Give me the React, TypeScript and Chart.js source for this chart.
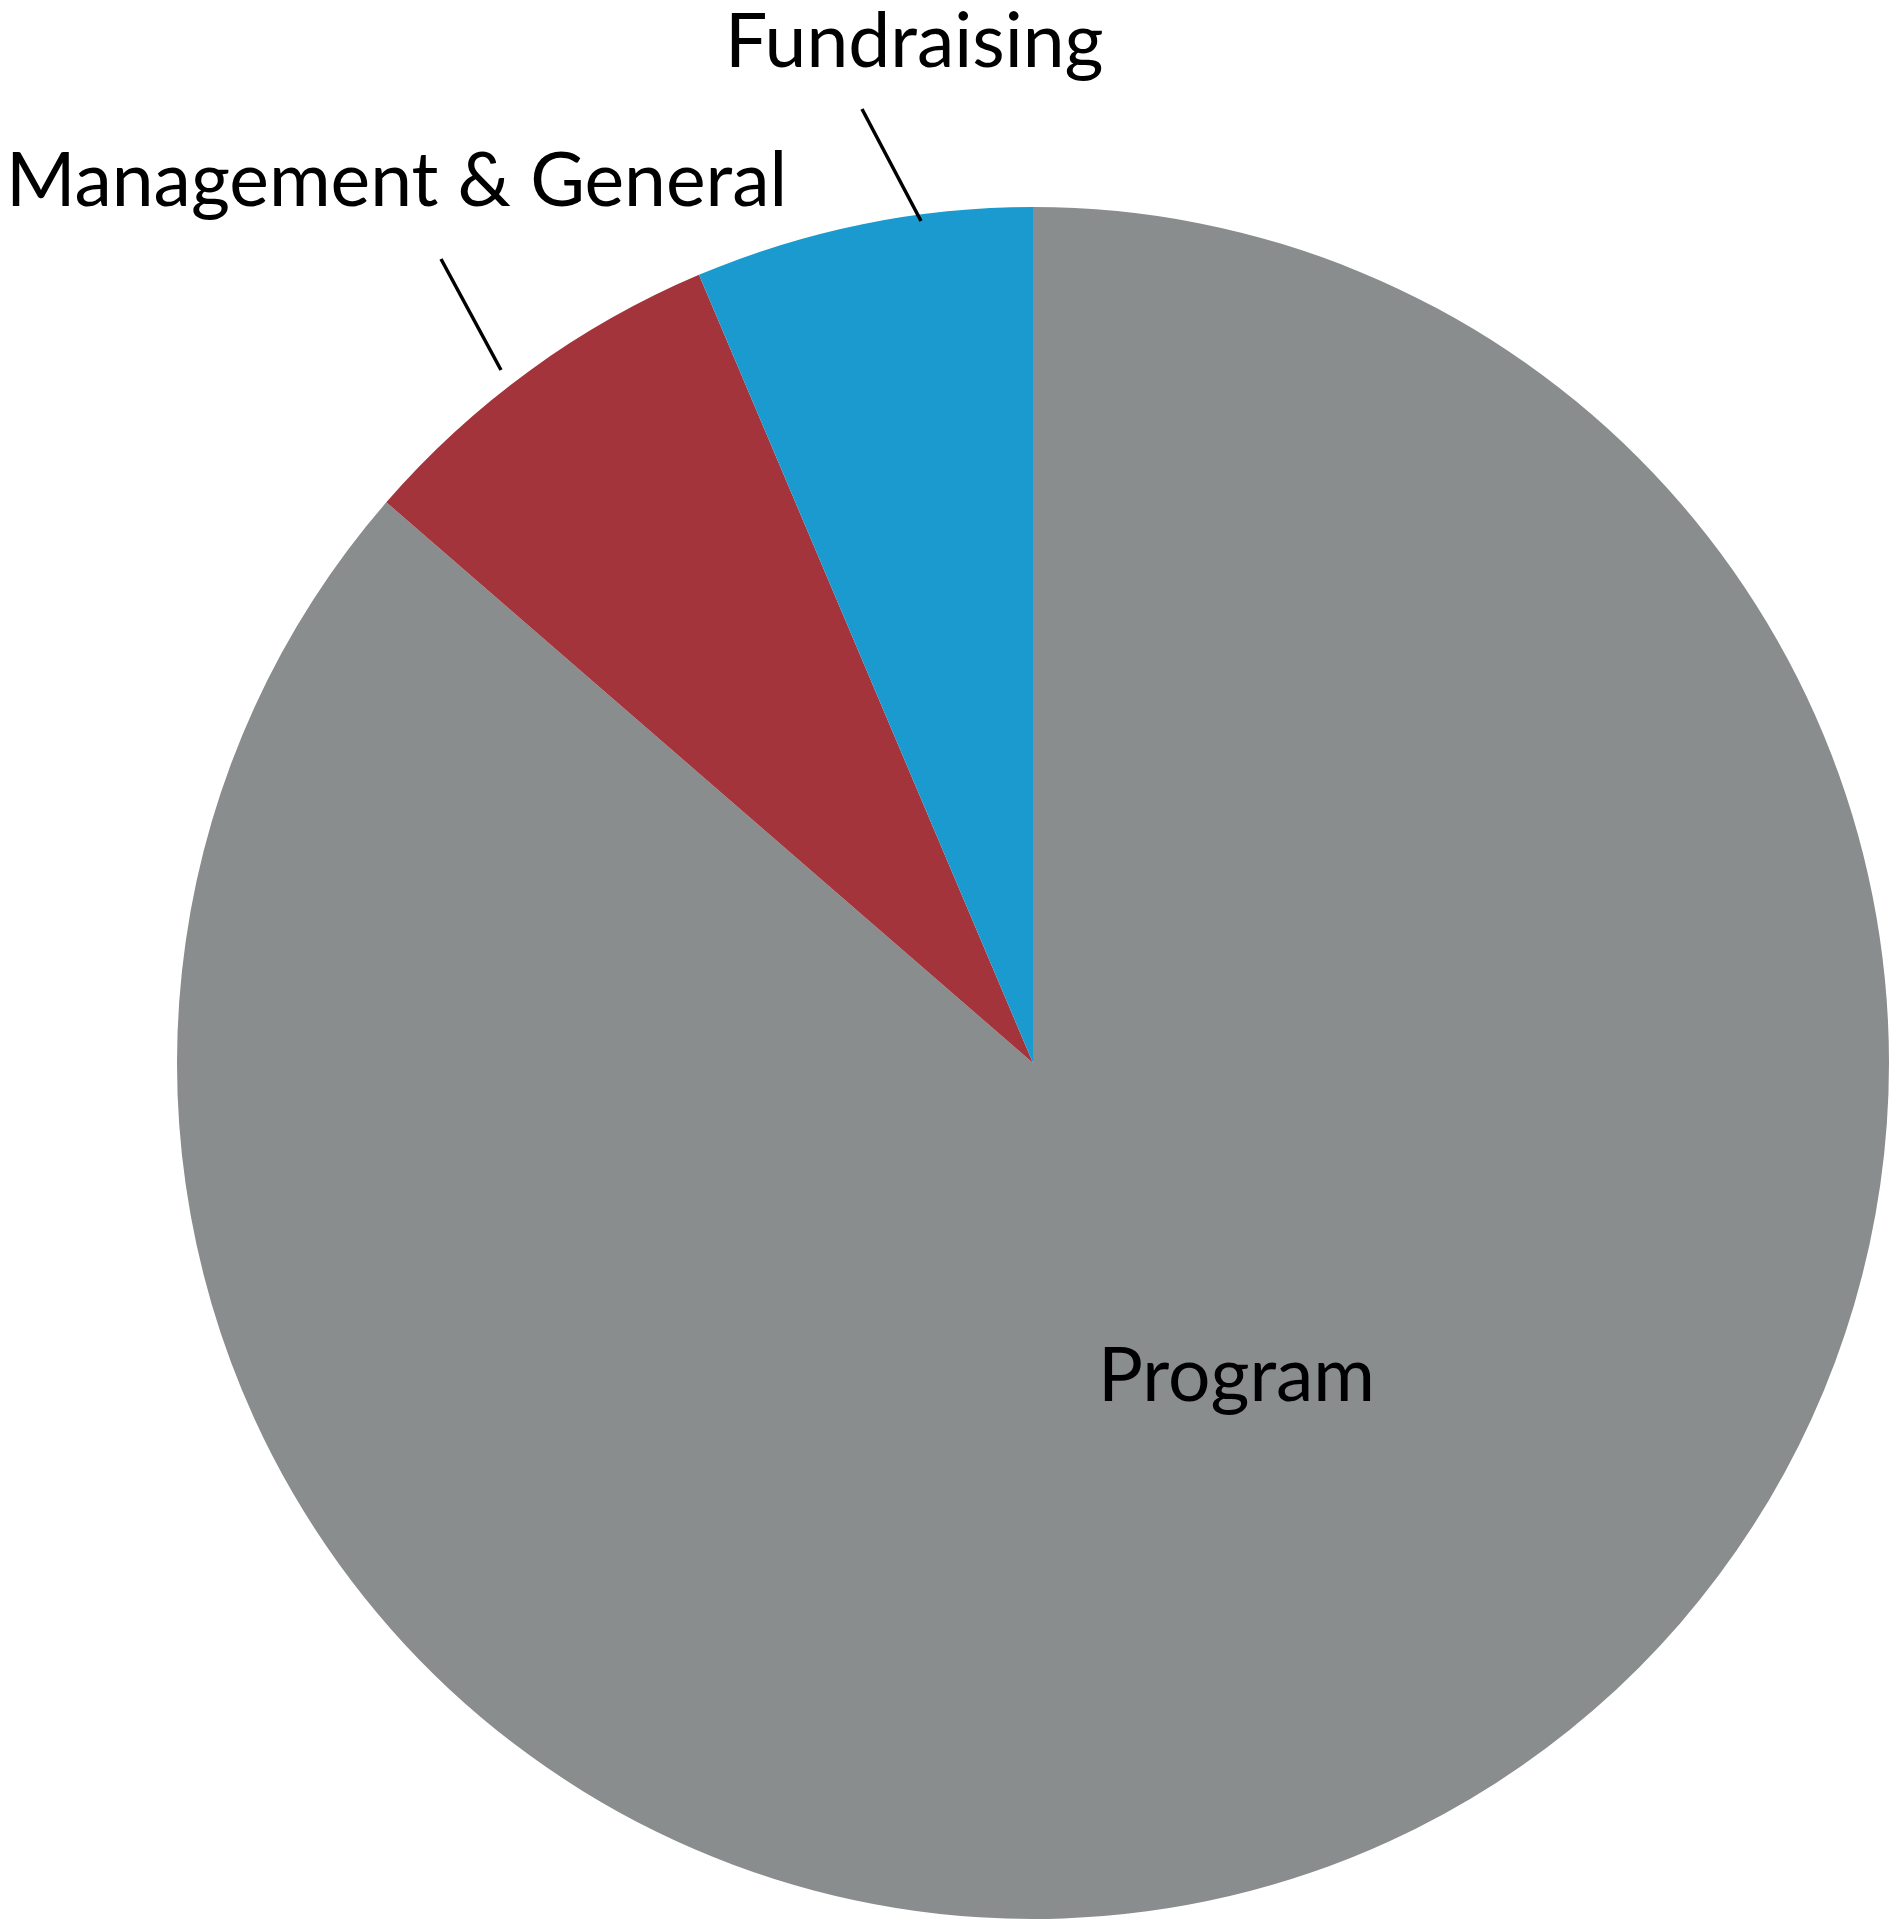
import React, { useEffect, useRef } from "react";
import { Chart, registerables } from "chart.js";

Chart.register(...registerables);

const categories = ["Program", "Management & General", "Fundraising"];
const values = [86.37, 7.25, 6.38];
const colors = ["#8a8d8e", "#a3343b", "#1a9ace"];

// label placement in units of pie radius, relative to pie centre
const labelAnchors = [
  { dx: 0.0759, dy: 0.3949 },
  { dx: -1.1998, dy: -1.0012 },
  { dx: -0.3598, dy: -1.1636 },
];
const leaderLines = [
  null,
  { x1: -0.6916, y1: -0.9393, x2: -0.6215, y2: -0.8096 },
  { x1: -0.1998, y1: -1.1145, x2: -0.1308, y2: -0.9836 },
];

const labelPlugin = {
  id: "sliceLabels",
  afterDatasetsDraw(chart: any) {
    const ctx = chart.ctx;
    const meta = chart.getDatasetMeta(0);
    const arc = meta.data[0];
    if (!arc) return;
    const { x: cx, y: cy, outerRadius: r } = arc.getProps(["x", "y", "outerRadius"], true);
    ctx.save();
    ctx.fillStyle = "#000";
    ctx.font = "75px Lato";
    ctx.textAlign = "left";
    ctx.textBaseline = "alphabetic";
    chart.data.labels.forEach((lbl: string, i: number) => {
      const a = labelAnchors[i];
      ctx.fillText(lbl, cx + a.dx * r, cy + a.dy * r);
      const l = leaderLines[i];
      if (l) {
        ctx.beginPath();
        ctx.strokeStyle = "#000";
        ctx.lineWidth = 3.5;
        ctx.moveTo(cx + l.x1 * r, cy + l.y1 * r);
        ctx.lineTo(cx + l.x2 * r, cy + l.y2 * r);
        ctx.stroke();
      }
    });
    ctx.restore();
  },
};

export default function App() {
  const ref = useRef<HTMLCanvasElement>(null);
  useEffect(() => {
    if (!ref.current) return;
    const chart = new Chart(ref.current, {
      type: "pie",
      data: {
        labels: categories,
        datasets: [
          {
            data: values,
            backgroundColor: colors,
            borderWidth: 0,
          },
        ],
      },
      options: {
        animation: false,
        responsive: false,
        devicePixelRatio: 1,
        layout: { padding: { left: 177, top: 206, right: 1, bottom: 0 } },
        plugins: {
          legend: { display: false },
          tooltip: { enabled: false },
        },
      },
      plugins: [labelPlugin],
    });
    return () => chart.destroy();
  }, []);
  return (
    <div style={{ position: "absolute", left: 0, top: 0, width: 1890, height: 1920, background: "#fff" }}>
      <canvas ref={ref} width={1890} height={1920} style={{ width: 1890, height: 1920 }} />
    </div>
  );
}
